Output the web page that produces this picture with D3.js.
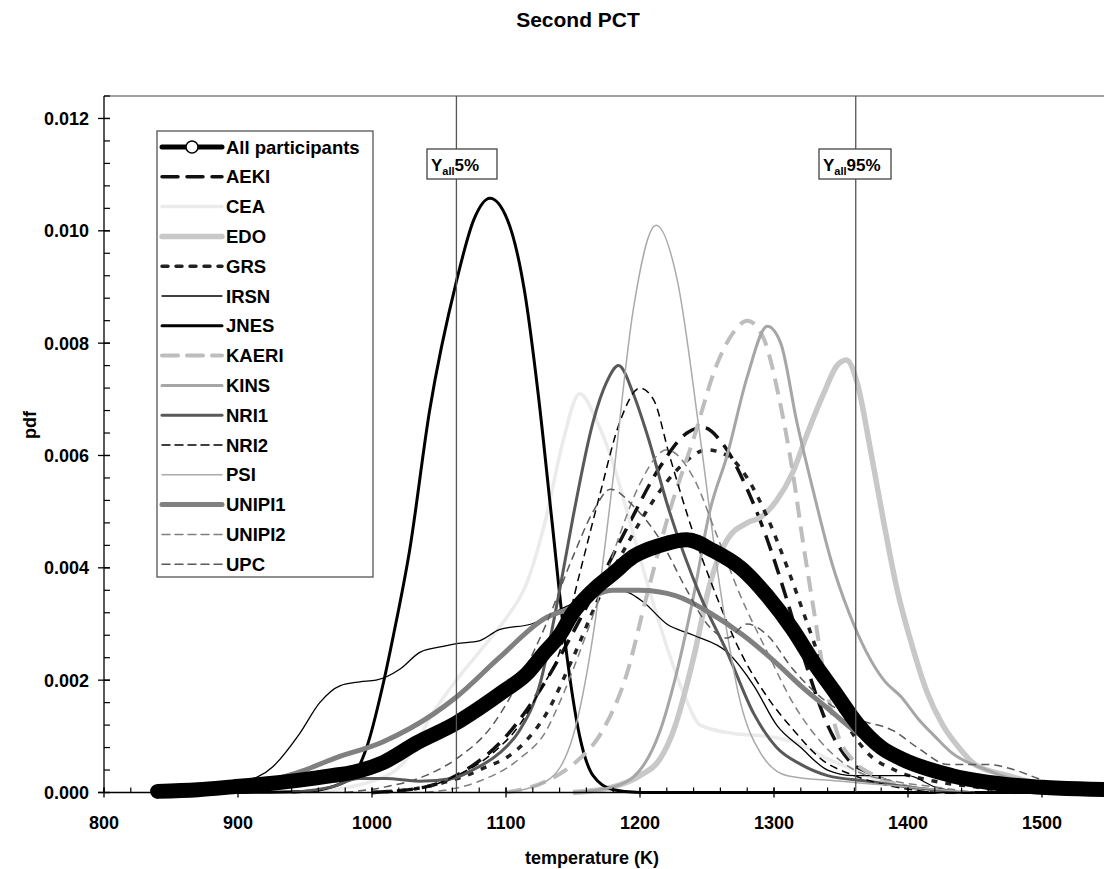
<!DOCTYPE html>
<html><head><meta charset="utf-8">
<script src="https://cdn.jsdelivr.net/npm/d3@7/dist/d3.min.js"></script>
<style>body{margin:0;background:#fff} text{font-family:"Liberation Sans",Arial,sans-serif;font-weight:bold;fill:#000}</style>
</head><body><svg id="c" width="1104" height="869"></svg>
<script>
// ---- data (temperature K, pdf) ----
const seriesNames = ["All participants","AEKI","CEA","EDO","GRS","IRSN","JNES","KAERI","KINS","NRI1","NRI2","PSI","UNIPI1","UNIPI2","UPC"];
const allParticipants = [[840,0.00002],[870,0.00005],[896,0.0001],[920,0.00015],[946,0.00022],[970,0.0003],[986,0.00036],[1008,0.00053],[1033,0.00088],[1063,0.00124],[1080,0.0015],[1098,0.0018],[1115,0.0021],[1129,0.0025],[1140,0.0028],[1150,0.0032],[1165,0.0036],[1180,0.0039],[1195,0.0042],[1215,0.0044],[1235,0.0045],[1255,0.0043],[1275,0.0040],[1295,0.0035],[1314,0.0029],[1330,0.0023],[1345,0.0018],[1363,0.0012],[1380,0.0008],[1395,0.0006],[1433,0.0003],[1484,0.00012],[1550,0.00005]];
const AEKI = [[1000,0],[1040,0.0001],[1070,0.0004],[1100,0.0010],[1130,0.0020],[1160,0.0033],[1190,0.0047],[1215,0.0058],[1235,0.0064],[1247,0.0065],[1262,0.0062],[1280,0.0054],[1295,0.0045],[1310,0.0034],[1325,0.0022],[1340,0.0012],[1355,0.0006],[1375,0.0003],[1400,0.0001],[1430,0]];
const CEA = [[950,0],[1000,0.0002],[1026,0.0006],[1045,0.0014],[1063,0.0020],[1080,0.0025],[1100,0.0031],[1115,0.0037],[1130,0.0049],[1142,0.0062],[1155,0.0071],[1168,0.0066],[1178,0.0060],[1195,0.0046],[1212,0.0032],[1232,0.0018],[1245,0.0012],[1270,0.00105],[1295,0.0010],[1315,0.0009],[1340,0.0006],[1360,0.0004],[1380,0.0002],[1400,0.0001],[1430,0]];
const EDO = [[1150,0],[1180,0.0001],[1200,0.0003],[1215,0.0006],[1225,0.0011],[1240,0.0024],[1252,0.0037],[1265,0.0045],[1280,0.0048],[1290,0.0049],[1302,0.0052],[1314,0.0057],[1325,0.0064],[1337,0.0071],[1347,0.0076],[1354,0.0077],[1362,0.0073],[1372,0.0061],[1382,0.0048],[1392,0.0036],[1402,0.0027],[1414,0.0018],[1426,0.0012],[1438,0.0008],[1450,0.0005],[1475,0.0003],[1505,0.0001],[1535,0]];
const GRS = [[1000,0],[1040,0.0001],[1080,0.0004],[1110,0.0008],[1130,0.0014],[1150,0.0024],[1170,0.0035],[1190,0.0044],[1210,0.0052],[1230,0.0058],[1250,0.0061],[1265,0.0060],[1280,0.0056],[1295,0.0049],[1310,0.0040],[1325,0.0030],[1340,0.0020],[1355,0.0012],[1370,0.0007],[1390,0.0004],[1420,0.0002],[1450,0.0001],[1480,0]];
const IRSN = [[870,0],[900,0.00015],[926,0.00046],[946,0.00105],[961,0.0016],[976,0.0019],[991,0.00197],[1003,0.002],[1021,0.0022],[1036,0.0025],[1053,0.0026],[1063,0.00265],[1080,0.0027],[1095,0.0029],[1119,0.0030],[1144,0.0033],[1165,0.0035],[1185,0.0036],[1202,0.0034],[1220,0.0030],[1240,0.0028],[1265,0.0025],[1285,0.0019],[1302,0.0012],[1320,0.0008],[1340,0.0004],[1360,0.0003],[1380,0.0003],[1400,0.0003],[1420,0.0001],[1440,0]];
const JNES = [[900,0],[950,0.00002],[970,0.0001],[986,0.0003],[996,0.0008],[1008,0.0019],[1016,0.0028],[1028,0.0043],[1043,0.0068],[1063,0.0091],[1076,0.0102],[1088,0.01058],[1101,0.0102],[1114,0.0089],[1124,0.0071],[1134,0.0049],[1144,0.0027],[1155,0.0010],[1165,0.0003],[1180,0.00005],[1200,0],[1550,0]];
const KAERI = [[1100,0],[1130,0.0002],[1150,0.0005],[1172,0.0011],[1190,0.0021],[1205,0.0035],[1222,0.0050],[1240,0.0063],[1257,0.0076],[1270,0.0082],[1280,0.0084],[1292,0.0081],[1304,0.0070],[1314,0.0057],[1322,0.0044],[1330,0.0032],[1338,0.0020],[1348,0.0010],[1358,0.0006],[1375,0.0003],[1400,0.0001],[1430,0]];
const KINS = [[1150,0],[1180,0.0001],[1200,0.0004],[1215,0.0011],[1227,0.0021],[1240,0.0035],[1252,0.0050],[1265,0.0060],[1280,0.0074],[1295,0.0083],[1305,0.0080],[1317,0.0066],[1330,0.0053],[1343,0.0041],[1356,0.0032],[1369,0.0025],[1382,0.0020],[1395,0.0017],[1408,0.0013],[1420,0.0010],[1433,0.0007],[1459,0.0004],[1497,0.00012],[1530,0]];
const NRI1 = [[940,0],[970,0.0001],[990,0.00025],[1010,0.00025],[1035,0.0002],[1060,0.00025],[1075,0.0004],[1095,0.0007],[1110,0.0011],[1125,0.0019],[1140,0.0036],[1150,0.0049],[1165,0.0066],[1175,0.0073],[1184,0.0076],[1195,0.0071],[1205,0.0064],[1222,0.0050],[1245,0.0035],[1265,0.0025],[1285,0.0014],[1302,0.0008],[1320,0.0005],[1340,0.0003],[1370,0.0002],[1400,0.0001],[1440,0]];
const NRI2 = [[1000,0],[1040,0.0001],[1063,0.0003],[1090,0.0007],[1110,0.0012],[1125,0.0018],[1140,0.0025],[1155,0.0039],[1170,0.0053],[1185,0.0066],[1200,0.0072],[1210,0.0070],[1222,0.0060],[1240,0.0046],[1257,0.0035],[1275,0.0025],[1295,0.0017],[1315,0.0011],[1335,0.0006],[1360,0.0003],[1390,0.0001],[1420,0]];
const PSI = [[1100,0],[1130,0.0002],[1150,0.0010],[1165,0.0028],[1180,0.0056],[1195,0.0086],[1212,0.0101],[1228,0.0091],[1245,0.0063],[1260,0.0036],[1275,0.0016],[1290,0.0007],[1310,0.0003],[1350,0.0002],[1400,0.0001],[1450,0]];
const UNIPI1 = [[860,0],[900,0.0001],[921,0.0002],[950,0.0004],[971,0.0006],[1008,0.0009],[1046,0.0014],[1063,0.0017],[1095,0.0024],[1129,0.0031],[1150,0.0033],[1165,0.0035],[1180,0.0036],[1200,0.0036],[1227,0.0035],[1252,0.0032],[1277,0.0028],[1302,0.0023],[1320,0.0019],[1340,0.0015],[1360,0.0011],[1380,0.0008],[1400,0.0006],[1433,0.0003],[1460,0.0002],[1500,0.0001],[1540,0]];
const UNIPI2 = [[1040,0],[1080,0.0002],[1110,0.0006],[1130,0.0011],[1140,0.0016],[1155,0.0025],[1170,0.0035],[1185,0.0046],[1200,0.0055],[1220,0.0061],[1240,0.0056],[1257,0.0046],[1275,0.0035],[1295,0.0025],[1314,0.0016],[1335,0.0009],[1360,0.0004],[1390,0.0002],[1420,0.0001],[1450,0]];
const UPC = [[980,0],[1010,0.0001],[1040,0.0003],[1063,0.0006],[1090,0.0012],[1110,0.0020],[1130,0.0030],[1150,0.0042],[1165,0.0050],[1178,0.0054],[1195,0.0051],[1215,0.0045],[1235,0.0036],[1250,0.0030],[1265,0.00275],[1280,0.0030],[1295,0.0028],[1314,0.0022],[1340,0.0016],[1363,0.0013],[1389,0.0011],[1407,0.0008],[1430,0.0005],[1459,0.0005],[1480,0.0004],[1497,0.00025],[1520,0.0001],[1550,0]];
const percentileT = [1063, 1361];
const percentileLabels = ["5%","95%"];
const xMajorTicks = [800,900,1000,1100,1200,1300,1400,1500];
const yMajorTicks = [0,0.002,0.004,0.006,0.008,0.010,0.012];

const seriesData = [allParticipants,AEKI,CEA,EDO,GRS,IRSN,JNES,KAERI,KINS,NRI1,NRI2,PSI,UNIPI1,UNIPI2,UPC];
const styles = {
 "All participants":{c:"#000",w:15,d:null,lw:5},
 "AEKI":{c:"#111",w:3.5,d:"16,9",lw:3.5},
 "CEA":{c:"#ebebeb",w:3.5,d:null,lw:3.5},
 "EDO":{c:"#c8c8c8",w:5.5,d:null,lw:5.5},
 "GRS":{c:"#222",w:3.5,d:"6,8",lw:3.5},
 "IRSN":{c:"#000",w:1.3,d:null,lw:1.3},
 "JNES":{c:"#000",w:3,d:null,lw:3},
 "KAERI":{c:"#bdbdbd",w:4,d:"16,9",lw:4},
 "KINS":{c:"#a6a6a6",w:3,d:null,lw:3},
 "NRI1":{c:"#595959",w:3,d:null,lw:3},
 "NRI2":{c:"#000",w:1.5,d:"8,5",lw:1.5},
 "PSI":{c:"#aaaaaa",w:1.5,d:null,lw:1.5},
 "UNIPI1":{c:"#808080",w:5,d:null,lw:5},
 "UNIPI2":{c:"#808080",w:1.5,d:"8,5",lw:1.5},
 "UPC":{c:"#595959",w:1.5,d:"8,5",lw:1.5}
};

const svg = d3.select("#c");
const x = d3.scaleLinear().domain([800,1550]).range([104,1109]);
const y = d3.scaleLinear().domain([0,0.0124]).range([792.5,96]);
const yTop = y(0.0124), yBot = y(0);

svg.append("defs").append("clipPath").attr("id","clip").append("rect")
  .attr("x",104).attr("y",yTop).attr("width",1000).attr("height",yBot-yTop+20);

svg.append("line").attr("x1",104).attr("x2",1104).attr("y1",yTop).attr("y2",yTop).attr("stroke","#808080").attr("stroke-width",1.3);

const line = d3.line().x(d=>x(d[0])).y(d=>y(d[1])).curve(d3.curveMonotoneX);
const g = svg.append("g").attr("clip-path","url(#clip)");
const order = [1,2,3,4,5,6,7,8,9,10,11,12,13,14,0];
order.forEach(i=>{
  const s = styles[seriesNames[i]];
  g.append("path").datum(seriesData[i]).attr("d",line).attr("fill","none")
   .attr("stroke",s.c).attr("stroke-width",s.w).attr("stroke-dasharray",s.d)
   .attr("stroke-linecap", i===0?"round":"butt").attr("stroke-linejoin","round");
});

percentileT.forEach((t,i)=>{
  svg.append("line").attr("x1",x(t)).attr("x2",x(t)).attr("y1",yTop).attr("y2",yBot)
    .attr("stroke","#555").attr("stroke-width",1.3);
});
const boxes = [{x0:427,x1:497},{x0:819,x1:891}];
percentileT.forEach((t,i)=>{
  const b = boxes[i];
  svg.append("rect").attr("x",b.x0).attr("y",149).attr("width",b.x1-b.x0).attr("height",30)
    .attr("fill","#fff").attr("stroke","#444").attr("stroke-width",1.3);
  const tx = svg.append("text").attr("x",b.x0+4).attr("y",171).style("font-size","17px");
  tx.append("tspan").text("Y");
  tx.append("tspan").attr("dy",4).style("font-size","11px").text("all");
  tx.append("tspan").attr("dy",-4).text(percentileLabels[i]);
});

const ax = svg.append("g");
ax.append("line").attr("x1",104).attr("x2",104).attr("y1",yTop).attr("y2",yBot).attr("stroke","#000").attr("stroke-width",1.3);
ax.append("line").attr("x1",98).attr("x2",1104).attr("y1",yBot).attr("y2",yBot).attr("stroke","#000").attr("stroke-width",1.3);
d3.range(0,0.01241,0.0004).forEach(v=>{
  ax.append("line").attr("x1",104).attr("x2",110).attr("y1",y(v)).attr("y2",y(v)).attr("stroke","#000").attr("stroke-width",1.2);
});
yMajorTicks.forEach(v=>{
  ax.append("line").attr("x1",98).attr("x2",110).attr("y1",y(v)).attr("y2",y(v)).attr("stroke","#000").attr("stroke-width",1.3);
  ax.append("text").attr("x",89).attr("y",y(v)+6.5).attr("text-anchor","end").style("font-size","18px").text(d3.format(".3f")(v));
});
d3.range(800,1551,20).forEach(v=>{
  ax.append("line").attr("x1",x(v)).attr("x2",x(v)).attr("y1",yBot).attr("y2",yBot-5).attr("stroke","#000").attr("stroke-width",1.2);
});
xMajorTicks.forEach(v=>{
  ax.append("line").attr("x1",x(v)).attr("x2",x(v)).attr("y1",yBot+5).attr("y2",yBot-5).attr("stroke","#000").attr("stroke-width",1.3);
  ax.append("text").attr("x",x(v)).attr("y",829).attr("text-anchor","middle").style("font-size","18px").text(v);
});
svg.append("text").attr("x",592).attr("y",864).attr("text-anchor","middle").style("font-size","18px").text("temperature (K)");
svg.append("text").attr("transform","translate(36,425) rotate(-90)").attr("text-anchor","middle").style("font-size","18px").text("pdf");
svg.append("text").attr("x",578).attr("y",27).attr("text-anchor","middle").style("font-size","21px").text("Second PCT");

const lg = svg.append("g");
lg.append("rect").attr("x",157).attr("y",131).attr("width",216).attr("height",446).attr("fill","#fff").attr("stroke","#555").attr("stroke-width",1.3);
seriesNames.forEach((n,i)=>{
  const s = styles[n];
  const yy = 147 + i*29.8;
  lg.append("line").attr("x1",162).attr("x2",222).attr("y1",yy).attr("y2",yy)
    .attr("stroke",s.c).attr("stroke-width",s.lw).attr("stroke-dasharray",s.d).attr("stroke-linecap","round");
  if(i===0){
    lg.append("circle").attr("cx",192).attr("cy",yy).attr("r",6).attr("fill","#fff").attr("stroke","#000").attr("stroke-width",1.5);
  }
  lg.append("text").attr("x",226).attr("y",yy+6.5).style("font-size","18.5px").text(n);
});
</script></body></html>
